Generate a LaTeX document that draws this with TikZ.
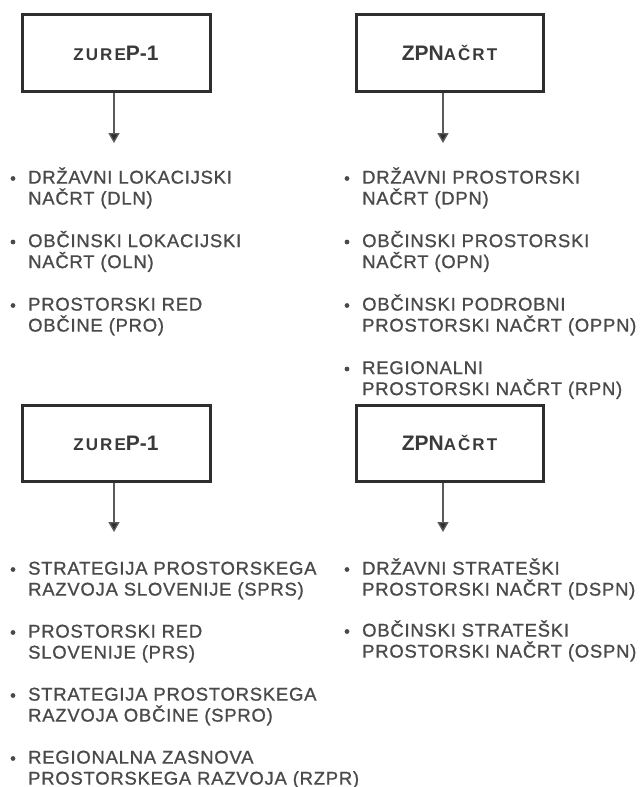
\documentclass[tikz,border=0pt]{standalone}
\usepackage{fontspec}
\setmainfont{Liberation Sans}
\newfontfamily\listfont[LetterSpace=4, FakeBold=0.9]{Liberation Sans}
\newfontfamily\capfont[LetterSpace=12]{Liberation Sans Bold}
\newfontfamily\headfont{Liberation Sans Bold}
\usetikzlibrary{arrows.meta}

\definecolor{framecol}{HTML}{2E2E2E}
\definecolor{titlecol}{HTML}{3A3A3A}
\definecolor{itemcol}{HTML}{4A4A4A}
\definecolor{arrowcol}{HTML}{5A5A5A}

\tikzset{
  lawbox/.style={draw=framecol, line width=3pt, minimum width=188pt,
    minimum height=77pt, inner sep=0pt, text=titlecol},
  listtext/.style={inner sep=0pt, text=itemcol,
    font=\listfont\fontsize{18.5}{21}\selectfont},
  downarrow/.style={draw=arrowcol, line width=1.4pt,
    -{Triangle[width=11pt,length=10pt,fill=framecol]}},
}

% one bulleted entry: name, x of text, y of first line centre, line 1, line 2
\newcommand\bulletentry[5]{%
  \fill[itemcol] (#2-15,#3+1.5) circle (2.4);
  \node[listtext, anchor=base west] (#1a) at (#2,#3+6.6) {#4};
  \node[listtext, anchor=base west] (#1b) at (#2,#3+27.6) {#5};
}

\newcommand\zurep{{\capfont\fontsize{17}{17}\selectfont ZURE}{\headfont\fontsize{21}{21}\selectfont P-1}}
\newcommand\zpnacrt{{\headfont\fontsize{21}{21}\selectfont ZPN}{\capfont\fontsize{17}{17}\selectfont AČRT}}

\begin{document}
\begin{tikzpicture}[x=1pt, y=-1pt]
\useasboundingbox[fill=white] (0,0) rectangle (642,787);

% upper pair of laws
\node[lawbox] (zurepA) at (116,53) {\zurep};
\node[lawbox, minimum width=187pt] (zpnA) at (449.5,53) {\zpnacrt};
\coordinate (tipA) at (114,143);
\coordinate (tipB) at (443,143);
\draw[downarrow] ([xshift=-2pt]zurepA.south) -- (tipA);
\draw[downarrow] ([xshift=-6.5pt]zpnA.south) -- (tipB);

\bulletentry{dln}{28}{177}{DRŽAVNI LOKACIJSKI}{NAČRT (DLN)}
\bulletentry{oln}{28}{240.5}{OBČINSKI LOKACIJSKI}{NAČRT (OLN)}
\bulletentry{pro}{28}{304}{PROSTORSKI RED}{OBČINE (PRO)}

\bulletentry{dpn}{362}{177}{DRŽAVNI PROSTORSKI}{NAČRT (DPN)}
\bulletentry{opn}{362}{240.5}{OBČINSKI PROSTORSKI}{NAČRT (OPN)}
\bulletentry{oppn}{362}{304}{OBČINSKI PODROBNI}{PROSTORSKI NAČRT (OPPN)}
\bulletentry{rpn}{362}{367.5}{REGIONALNI}{PROSTORSKI NAČRT (RPN)}

% lower pair of laws
\node[lawbox, minimum height=76pt] (zurepB) at (116,443) {\zurep};
\node[lawbox, minimum width=187pt, minimum height=76pt] (zpnB) at (449.5,443) {\zpnacrt};
\coordinate (tipC) at (114,532);
\coordinate (tipD) at (443,532);
\draw[downarrow] ([xshift=-2pt]zurepB.south) -- (tipC);
\draw[downarrow] ([xshift=-6.5pt]zpnB.south) -- (tipD);

\bulletentry{sprs}{28}{568}{STRATEGIJA PROSTORSKEGA}{RAZVOJA SLOVENIJE (SPRS)}
\bulletentry{prs}{28}{631}{PROSTORSKI RED}{SLOVENIJE (PRS)}
\bulletentry{spro}{28}{694}{STRATEGIJA PROSTORSKEGA}{RAZVOJA OBČINE (SPRO)}
\bulletentry{rzpr}{28}{757}{REGIONALNA ZASNOVA}{PROSTORSKEGA RAZVOJA (RZPR)}

\bulletentry{dspn}{362}{568}{DRŽAVNI STRATEŠKI}{PROSTORSKI NAČRT (DSPN)}
\bulletentry{ospn}{362}{630}{OBČINSKI STRATEŠKI}{PROSTORSKI NAČRT (OSPN)}
\end{tikzpicture}
\end{document}
